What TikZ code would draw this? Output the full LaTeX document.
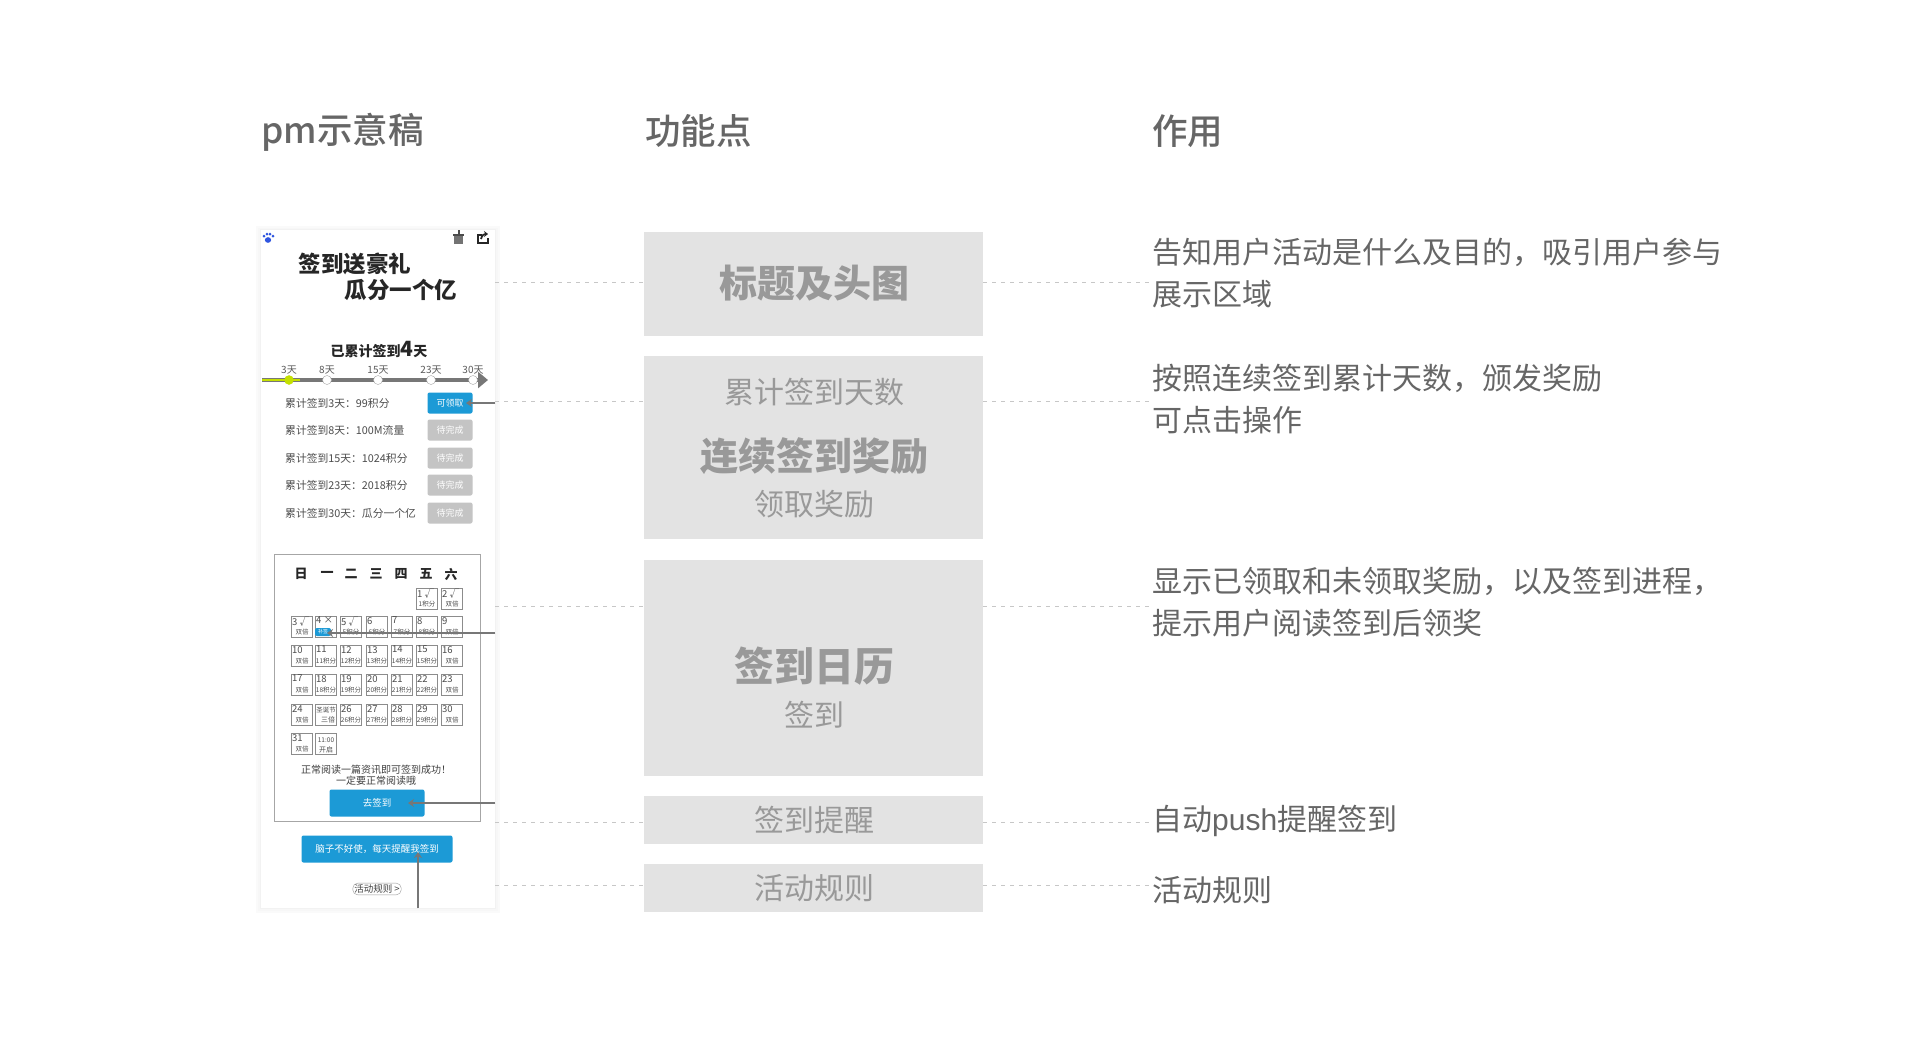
\documentclass[tikz,border=0pt]{standalone}
\usepackage{fontspec}
\usepackage{xcolor}
\setmainfont{Noto Sans CJK SC}
\newfontfamily\midfont{Noto Sans CJK SC Medium}
\newfontfamily\latinfont{Liberation Sans}
\usetikzlibrary{positioning}
\usetikzlibrary{arrows.meta}
\definecolor{boxgrey}{HTML}{E3E3E3}
\definecolor{inkgrey}{HTML}{666666}
\definecolor{boxink}{HTML}{999999}
\definecolor{btnblue}{HTML}{1C9AD6}
\definecolor{btngrey}{HTML}{C4C4C4}
\definecolor{railgrey}{HTML}{777777}
\definecolor{limeg}{HTML}{C4E000}
\definecolor{pawblue}{HTML}{2F55E0}
\tikzset{
  headline/.style={anchor=west,inner sep=0,text=inkgrey,font=\fontsize{35.5}{35.5}\midfont},
  featbox/.style={fill=boxgrey,anchor=north west,inner sep=0,minimum width=339pt},
  featsmall/.style={inner sep=0,text=boxink,font=\fontsize{30}{30}\selectfont},
  featbig/.style={inner sep=0,text=boxink,font=\fontsize{38}{38}\selectfont\bfseries},
  note/.style={anchor=west,inner sep=0,text=inkgrey,font=\fontsize{30}{42}\selectfont,align=left},
  dots/.style={draw=black!22,line width=0.7pt,dash pattern=on 4pt off 5pt},
  pointer/.style={draw=railgrey,line width=2.8pt,-{Stealth[length=6pt,width=8pt]}},
  rewardline/.style={anchor=west,inner sep=0,text=black!70,font=\fontsize{10.8}{10.8}\selectfont},
  rewardbtn/.style={fill=btngrey,rounded corners=2pt,minimum width=45pt,minimum height=21pt,inner sep=0,text=white,font=\fontsize{9}{9}\selectfont},
  dayrow/.style={inner sep=0,text=black!75,font=\fontsize{10}{10}\selectfont},
  daycell/.style={draw=black!45,line width=0.5pt,minimum width=21pt,minimum height=21pt,inner sep=0,anchor=north west},
  celltop/.style={inner sep=0,anchor=north west,text=black!70,font=\fontsize{9.5}{9.5}\selectfont},
  cellbot/.style={inner sep=0,text=black!70,font=\fontsize{6.5}{6.5}\selectfont},
  weekday/.style={inner sep=0,text=black!85,font=\fontsize{13}{13}\selectfont\bfseries},
  stopdot/.style={circle,draw=black!35,fill=white,minimum size=9pt,inner sep=0},
  stoplabel/.style={inner sep=0,text=black!65,font=\fontsize{10}{10}\selectfont},
  bluebtn/.style={fill=btnblue,rounded corners=2pt,inner sep=0,text=white,font=\fontsize{9.5}{9.5}\selectfont}
}
\begin{document}
\begin{tikzpicture}[x=1pt,y=-1pt]
  \useasboundingbox (0,0) rectangle (1920,1053);
  \fill[white] (0,0) rectangle (1920,1053);
  % column heads
  \node[headline] (headpm) at (261,132) {pm示意稿};
  \node[headline] (headfeat) at (645,131) {功能点};
  \node[headline] (headuse) at (1152,131) {作用};

  % phone screen
  \fill[black!2] (256,226) rectangle (500,913);
  \fill[black!3] (258,228) rectangle (498,911);
  \fill[black!5] (260,229) rectangle (496,909);
  \node[fill=white,anchor=north west,inner sep=0,minimum width=234pt,minimum height=678pt] (phone) at (261,230) {};
  % paw, gift and share icons
  \fill[pawblue] (268,240) ellipse (3.2pt and 2.8pt);
  \foreach \px/\py in {264/236,267/234,270/234,273/236}
    \fill[pawblue] (\px,\py) circle (1.5pt);
  \fill[black!55] (454,236) rectangle (463,244);
  \fill[black!70] (458,230) rectangle (459.5,236);
  \fill[black!70] (453,234) rectangle (464,236);
  \draw[line width=1.8pt,black!85] (482,235) -- (478,235) -- (478,243) -- (488,243) -- (488,238);
  \draw[line width=1.8pt,black!85,-{Stealth[length=4pt,width=6pt]}] (481,239) .. controls (482,235) and (484,234) .. (488,234);
  \node[inner sep=0,text=black!85,font=\fontsize{22.5}{22.5}\selectfont\bfseries] (title1) at (355,264) {签到送豪礼};
  \node[inner sep=0,text=black!85,font=\fontsize{22.5}{22.5}\selectfont\bfseries] (title2) at (401,290) {瓜分一个亿};
  \node[inner sep=0,text=black!85,font=\fontsize{14}{14}\selectfont\bfseries] (total) at (379,350) {已累计签到\fontsize{21}{21}\selectfont 4\fontsize{14}{14}\selectfont 天};

  % progress rail
  \coordinate (railstart) at (262,380);
  \coordinate (railend) at (488,380);
  \draw[railgrey,line width=3.5pt,-{Stealth[length=10pt,width=16pt,inset=0pt]}] (railstart) -- (railend);
  \draw[limeg,line width=2pt] (railstart) -- (300,380);
  \node[stopdot,draw=limeg,fill=limeg] (stop1) at (289,380) {};
  \node[stopdot] (stop2) at (327,380) {};
  \node[stopdot] (stop3) at (378,380) {};
  \node[stopdot] (stop4) at (431,380) {};
  \node[stopdot] (stop5) at (473,380) {};
  \node[stoplabel,above=1pt of stop1] (lab1) {3天};
  \node[stoplabel,above=1pt of stop2] (lab2) {8天};
  \node[stoplabel,above=1pt of stop3] (lab3) {15天};
  \node[stoplabel,above=1pt of stop4] (lab4) {23天};
  \node[stoplabel,above=1pt of stop5] (lab5) {30天};

  % rewards
  \node[rewardline] (r1) at (285,403) {累计签到3天：99积分};
  \node[rewardline] (r2) at (285,430) {累计签到8天：100M流量};
  \node[rewardline] (r3) at (285,458) {累计签到15天：1024积分};
  \node[rewardline] (r4) at (285,485) {累计签到23天：2018积分};
  \node[rewardline] (r5) at (285,513) {累计签到30天：瓜分一个亿};
  \node[rewardbtn,fill=btnblue] (b1) at (450,403) {可领取};
  \node[rewardbtn] (b2) at (450,430) {待完成};
  \node[rewardbtn] (b3) at (450,458) {待完成};
  \node[rewardbtn] (b4) at (450,485) {待完成};
  \node[rewardbtn] (b5) at (450,513) {待完成};

  % calendar
  \node[draw=black!35,line width=1pt,anchor=north west,inner sep=0,minimum width=206pt,minimum height=267pt] (calendar) at (274,554) {};
  \foreach \wname/\wx in {日/301,一/327,二/351,三/376,四/401,五/426,六/451}
    \node[weekday] (week\wx) at (\wx,574) {\wname};
  \foreach \cx/\cy/\ctop/\cbot [count=\ci] in {
    416/588/1 √/1积分,441/588/2 √/双倍,
    291/616/3 √/双倍,315/616/4 ×/,340/616/5 √/5积分,366/616/6/6积分,391/616/7/7积分,416/616/8/8积分,441/616/9/双倍,
    291/645/10/双倍,315/645/11/11积分,340/645/12/12积分,366/645/13/13积分,391/645/14/14积分,416/645/15/15积分,441/645/16/双倍,
    291/674/17/双倍,315/674/18/18积分,340/674/19/19积分,366/674/20/20积分,391/674/21/21积分,416/674/22/22积分,441/674/23/双倍,
    291/704/24/双倍,340/704/26/26积分,366/704/27/27积分,391/704/28/28积分,416/704/29/29积分,441/704/30/双倍,
    291/733/31/双倍}
  {
    \node[daycell] (cell\ci) at (\cx,\cy) {};
    \node[celltop] (ctop\ci) at (\cx+1,\cy+1) {\ctop};
    \node[cellbot] (cbot\ci) at (\cx+11,\cy+16) {\cbot};
  }
  \node[daycell] (xmas) at (315,704) {};
  \node[cellbot] (xmas1) at (326,710) {圣诞节};
  \node[cellbot,font=\fontsize{7}{7}\selectfont] (xmas2) at (328,720) {三倍};
  \node[daycell] (open) at (315,733) {};
  \node[cellbot] (open1) at (326,740) {11:00};
  \node[cellbot,font=\fontsize{7}{7}\selectfont] (open2) at (326,750) {开启};
  \node[bluebtn,minimum width=16pt,minimum height=8pt,font=\fontsize{5}{5}\selectfont] (today) at (323,632) {补签};
  \node[dayrow] (hint1) at (376,770) {正常阅读一篇资讯即可签到成功！};
  \node[dayrow] (hint2) at (376,781) {一定要正常阅读哦~};
  \node[bluebtn,minimum width=95pt,minimum height=27pt] (gosign) at (377,803) {去签到};
  \node[bluebtn,minimum width=151pt,minimum height=27pt] (remind) at (377,849) {脑子不好使，每天提醒我签到};
  \node[draw=black!40,rounded corners=5pt,inner sep=1.5pt,text=black!75,font=\fontsize{9.5}{9.5}\selectfont] (rules) at (377,889) {活动规则 >};

  % pointers out of the screen
  \coordinate (tipb1) at (466,403);
  \coordinate (tipcal) at (327,633);
  \coordinate (tipgo) at (408,803);
  \coordinate (tiprem) at (418,852);
  \draw[pointer] (phone.east |- tipb1) -- (tipb1);
  \draw[pointer] (phone.east |- tipcal) -- (tipcal);
  \draw[pointer] (phone.east |- tipgo) -- (tipgo);
  \draw[pointer] (phone.south -| tiprem) -- (tiprem);

  % feature boxes
  \node[featbox,minimum height=104pt] (boxtitle) at (644,232) {};
  \node[featbox,minimum height=183pt] (boxreward) at (644,356) {};
  \node[featbox,minimum height=216pt] (boxcal) at (644,559.5) {};
  \node[featbox,minimum height=48pt] (boxremind) at (644,795.5) {};
  \node[featbox,minimum height=48pt] (boxrule) at (644,863.5) {};
  \node[featbig] (t1) at (814.5,283) {标题及头图};
  \node[featsmall] (t2) at (814,392) {累计签到天数};
  \node[featbig] (t3) at (814,456) {连续签到奖励};
  \node[featsmall] (t4) at (814,504) {领取奖励};
  \node[featbig,font=\fontsize{40}{40}\selectfont\bfseries] (t5) at (814,666) {签到日历};
  \node[featsmall] (t6) at (814,715) {签到};
  \node[featsmall] (t7) at (814,820) {签到提醒};
  \node[featsmall] (t8) at (814,888) {活动规则};

  % notes
  \node[note] (note1) at (1152,273) {告知用户活动是什么及目的，吸引用户参与\\展示区域};
  \node[note] (note2) at (1152,399) {按照连续签到累计天数，颁发奖励\\可点击操作};
  \node[note] (note3) at (1152,602) {显示已领取和未领取奖励，以及签到进程，\\提示用户阅读签到后领奖};
  \node[note] (note4) at (1152,821) {自动{\latinfont push}提醒签到};
  \node[note] (note5) at (1152,890) {活动规则};

  % dotted leaders
  \foreach \ly/\lbox in {282/boxtitle,401/boxreward,606/boxcal,822/boxremind,885/boxrule} {
    \draw[dots] (phone.east |- 0,\ly) -- (\lbox.west |- 0,\ly);
    \draw[dots] (\lbox.east |- 0,\ly) -- (1150,\ly);
  }
\end{tikzpicture}
\end{document}
